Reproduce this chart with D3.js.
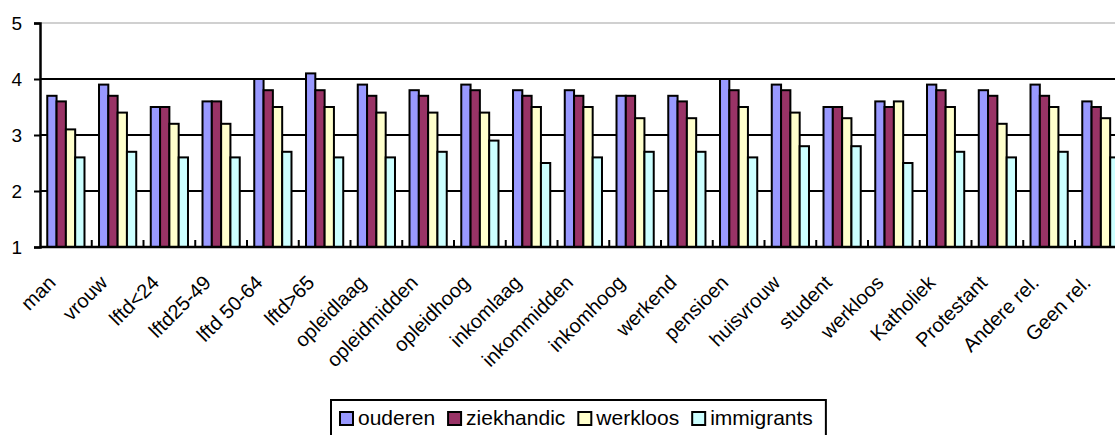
<!DOCTYPE html>
<html>
<head>
<meta charset="utf-8">
<script src="https://cdn.jsdelivr.net/npm/d3@7"></script>
<style>
  body { margin: 0; background: #fff; overflow: hidden; }
  svg { display: block; font-family: "Liberation Sans", Arial, sans-serif; }
</style>
</head>
<body>
<svg id="chart"></svg>
<script>
const categories = ["man", "vrouw", "lftd<24", "lftd25-49", "lftd 50-64", "lftd>65",
  "opleidlaag", "opleidmidden", "opleidhoog", "inkomlaag", "inkommidden", "inkomhoog",
  "werkend", "pensioen", "huisvrouw", "student", "werkloos", "Katholiek", "Protestant",
  "Andere rel.", "Geen rel."];
const seriesNames = ["ouderen", "ziekhandic", "werkloos", "immigrants"];
const ouderen = [3.7, 3.9, 3.5, 3.6, 4.0, 4.1, 3.9, 3.8, 3.9, 3.8, 3.8, 3.7, 3.7, 4.0, 3.9, 3.5, 3.6, 3.9, 3.8, 3.9, 3.6];
const ziekhandic = [3.6, 3.7, 3.5, 3.6, 3.8, 3.8, 3.7, 3.7, 3.8, 3.7, 3.7, 3.7, 3.6, 3.8, 3.8, 3.5, 3.5, 3.8, 3.7, 3.7, 3.5];
const werkloos = [3.1, 3.4, 3.2, 3.2, 3.5, 3.5, 3.4, 3.4, 3.4, 3.5, 3.5, 3.3, 3.3, 3.5, 3.4, 3.3, 3.6, 3.5, 3.2, 3.5, 3.3];
const immigrants = [2.6, 2.7, 2.6, 2.6, 2.7, 2.6, 2.6, 2.7, 2.9, 2.5, 2.6, 2.7, 2.7, 2.6, 2.8, 2.8, 2.5, 2.7, 2.6, 2.7, 2.6];
const yTicks = [1, 2, 3, 4, 5];
const colors = ["#9999ff", "#993366", "#ffffcc", "#ccffff"];

const seriesValues = [ouderen, ziekhandic, werkloos, immigrants];
const width = 1115;
const height = 435;
const left = 40;
const step = 51.75;

const svg = d3.select("#chart").attr("width", width).attr("height", height);

const x = d3.scaleBand()
  .domain(categories)
  .range([left, left + step * categories.length])
  .padding(0);
const x1 = d3.scaleBand()
  .domain(seriesNames)
  .range([0, x.bandwidth()])
  .paddingInner(0)
  .paddingOuter(0.78);
const y = d3.scaleLinear().domain([1, 5]).range([247, 23]);

// top border line (light grey)
svg.append("line")
  .attr("x1", left).attr("x2", width)
  .attr("y1", y(5)).attr("y2", y(5))
  .attr("stroke", "#c0c0c0").attr("stroke-width", 1.5);

// gridlines
svg.append("g")
  .selectAll("line")
  .data(yTicks.filter((d) => d > 1 && d < 5))
  .join("line")
  .attr("x1", left).attr("x2", width)
  .attr("y1", (d) => y(d)).attr("y2", (d) => y(d))
  .attr("stroke", "#000").attr("stroke-width", 2);

// bars
const groups = svg.append("g")
  .selectAll("g")
  .data(categories)
  .join("g")
  .attr("transform", (d) => `translate(${x(d)},0)`);
groups.selectAll("rect")
  .data((d, i) => seriesNames.map((s, j) => ({ s, j, v: seriesValues[j][i] })))
  .join("rect")
  .attr("x", (d) => x1(d.s))
  .attr("width", x1.bandwidth())
  .attr("y", (d) => y(d.v))
  .attr("height", (d) => y(1) - y(d.v))
  .attr("fill", (d) => colors[d.j])
  .attr("stroke", "#000")
  .attr("stroke-width", 2);

// x axis
const xAxis = svg.append("g").attr("transform", `translate(0,${y(1)})`);
xAxis.append("line")
  .attr("x1", left).attr("x2", width)
  .attr("stroke", "#000").attr("stroke-width", 2.5);
xAxis.selectAll(".tick")
  .data(categories.slice(1))
  .join("line")
  .attr("x1", (d) => x(d)).attr("x2", (d) => x(d))
  .attr("y1", 0).attr("y2", -7)
  .attr("stroke", "#000").attr("stroke-width", 2);
xAxis.selectAll("text")
  .data(categories)
  .join("text")
  .attr("transform", (d) => `translate(${x(d) + x.bandwidth() / 2 - 9},37) rotate(-45)`)
  .attr("text-anchor", "end")
  .attr("font-size", 20)
  .attr("fill", "#000")
  .text((d) => d);

// y axis
const yAxis = svg.append("g").attr("transform", `translate(${left},0)`)
  .call(d3.axisLeft(y).tickValues(yTicks).tickSize(6).tickPadding(12).tickFormat(d3.format("d")));
yAxis.select(".domain").attr("stroke-width", 2.5);
yAxis.selectAll(".tick line").attr("stroke-width", 2);
yAxis.selectAll(".tick text").attr("font-size", 19).attr("font-family", "Liberation Sans, Arial, sans-serif");

// legend
const legend = svg.append("g");
const legendBox = legend.append("rect")
  .attr("x", 331).attr("y", 400)
  .attr("height", 40)
  .attr("fill", "#fff").attr("stroke", "#000").attr("stroke-width", 2);
let lx = 340;
seriesNames.forEach((name, i) => {
  legend.append("rect")
    .attr("x", lx).attr("y", 412)
    .attr("width", 13).attr("height", 13)
    .attr("fill", colors[i]).attr("stroke", "#000").attr("stroke-width", 2);
  const t = legend.append("text")
    .attr("x", lx + 18).attr("y", 425)
    .attr("font-size", 21)
    .text(name);
  lx += 18 + t.node().getComputedTextLength() + 13;
});
legendBox.attr("width", lx - 331);
</script>
</body>
</html>
